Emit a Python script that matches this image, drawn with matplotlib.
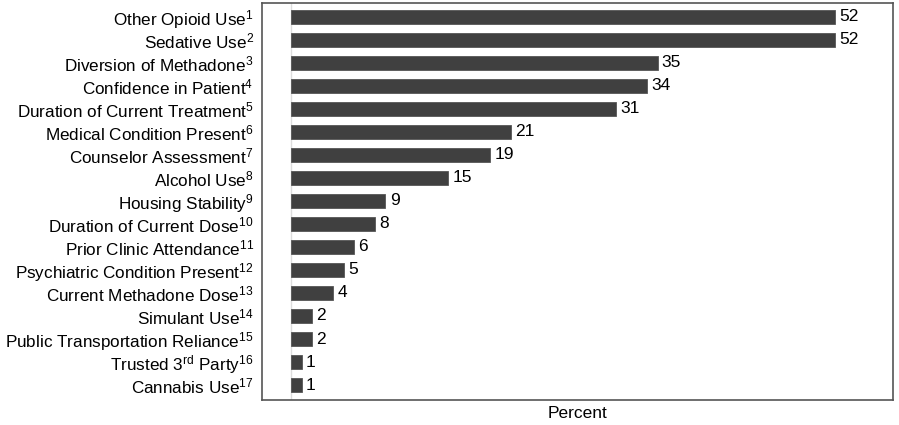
import matplotlib
matplotlib.use("Agg")
import matplotlib.pyplot as plt

plt.rcParams["font.family"] = ["Liberation Sans", "DejaVu Sans"]
plt.rcParams["mathtext.fontset"] = "custom"
plt.rcParams["mathtext.rm"] = "Liberation Sans"
plt.rcParams["mathtext.default"] = "regular"

categories = [
    "Other Opioid Use$^{1}$",
    "Sedative Use$^{2}$",
    "Diversion of Methadone$^{3}$",
    "Confidence in Patient$^{4}$",
    "Duration of Current Treatment$^{5}$",
    "Medical Condition Present$^{6}$",
    "Counselor Assessment$^{7}$",
    "Alcohol Use$^{8}$",
    "Housing Stability$^{9}$",
    "Duration of Current Dose$^{10}$",
    "Prior Clinic Attendance$^{11}$",
    "Psychiatric Condition Present$^{12}$",
    "Current Methadone Dose$^{13}$",
    "Simulant Use$^{14}$",
    "Public Transportation Reliance$^{15}$",
    "Trusted 3$^{rd}$ Party$^{16}$",
    "Cannabis Use$^{17}$",
]
percent = [52, 52, 35, 34, 31, 21, 19, 15, 9, 8, 6, 5, 4, 2, 2, 1, 1]

fig = plt.figure(figsize=(8.99, 4.25), dpi=100)
ax = fig.add_axes([262 / 899, 1 - 400 / 425, (893 - 262) / 899, 397 / 425])

ypos = list(range(len(categories)))
ax.axvline(0, color="#dddddd", lw=1, zorder=0)
ax.barh(ypos, percent, height=0.6, color="#404040", edgecolor="#555555", lw=0.6, zorder=2)
for y, v in zip(ypos, percent):
    ax.text(v + 0.4, y, str(v), va="center", ha="left", fontsize=12.5, color="black")

ax.set_yticks(ypos)
ax.set_yticklabels(categories, fontsize=12.3)
ax.set_xticks([])
ax.tick_params(axis="y", length=0, pad=6)
ax.set_xlim(-2.8, 57.5)
ax.set_ylim(16.65, -0.6)
ax.set_xlabel("Percent", fontsize=12.5, labelpad=4)
for s in ax.spines.values():
    s.set_color("#555555")
    s.set_linewidth(1.2)

fig.savefig("out.png", dpi=100)
